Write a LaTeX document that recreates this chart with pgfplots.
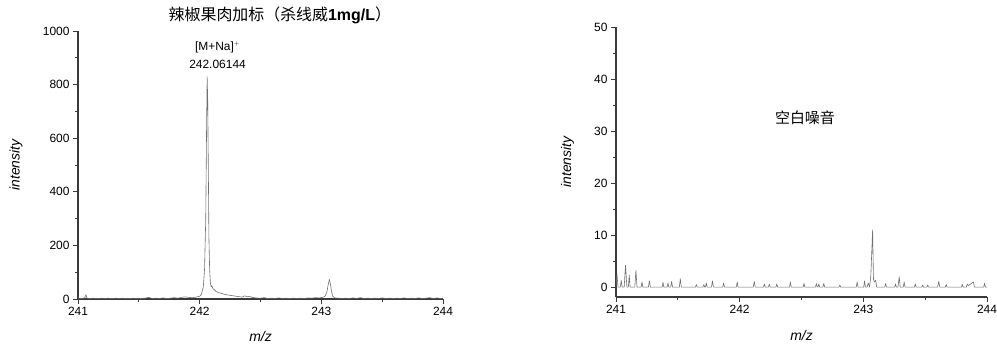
\documentclass[border=0pt]{standalone}
\usepackage{fontspec}
\setmainfont{Liberation Sans}
\newfontfamily\cjk{Noto Sans CJK SC}
\usepackage{pgfplots}
\pgfplotsset{compat=1.18}

\definecolor{axisgray}{HTML}{3A3A3A}
\definecolor{tracegray}{HTML}{707070}

\pgfplotsset{
  spec/.style={
    scale only axis,
    axis lines=left,
    axis line style={axisgray, line width=1.1bp, -},
    tick align=outside,
    tick style={axisgray, line width=0.9bp},
    major tick length=5bp,
    minor tick length=3bp,
    xmin=241, xmax=244,
    xtick={241,242,243,244},
    minor xtick={241.5,242.5,243.5},
    /pgf/number format/assume math mode=true,
    /pgf/number format/1000 sep={},
    ticklabel style={font=\fontsize{12}{14}\selectfont, text=black},
    label style={font=\fontsize{14}{16}\selectfont\itshape},
    xlabel={m/z},
    ylabel={intensity},
    xlabel style={at={(axis description cs:0.5,-0.141)}, anchor=center},
    clip=false,
  },
  trace/.style={tracegray, line width=0.6bp, mark=none, line join=round},
}

\begin{document}
\begin{tikzpicture}
\useasboundingbox (0,0) rectangle (997bp,347bp);

% spiked pepper pulp sample
\begin{axis}[spec,
  at={(78bp,48bp)}, anchor=south west,
  width=365bp, height=268bp,
  ymin=0, ymax=1000,
  ytick={0,200,400,600,800,1000},
  minor ytick={100,300,500,700,900},
  ylabel style={at={(axis description cs:-0.170,0.5)}, anchor=center, rotate=0},
  title={{\cjk 辣椒果肉加标（杀线威}\textbf{1mg/L}{\cjk ）}},
  title style={at={(axis description cs:0.553,1.035)}, anchor=center,
               font=\fontsize{16}{18}\selectfont},
]
\addplot[trace] coordinates {
(241.00,3) (241.03,2) (241.055,4) (241.065,16) (241.075,3) (241.10,2)
(241.13,3) (241.16,1) (241.19,3) (241.22,2) (241.25,3) (241.28,1)
(241.31,3) (241.34,2) (241.37,3) (241.40,1) (241.43,2) (241.46,3)
(241.49,1) (241.52,2) (241.55,3) (241.58,6) (241.61,2) (241.64,3)
(241.67,2) (241.70,4) (241.73,2) (241.76,3) (241.79,5) (241.82,3)
(241.85,6) (241.88,8) (241.91,6) (241.94,5) (241.97,7) (242.00,10)
(242.015,18) (242.03,45) (242.04,110) (242.05,300) (242.057,650)
(242.0615,830) (242.066,745) (242.071,500) (242.076,230) (242.082,110)
(242.088,60) (242.095,45) (242.10,50) (242.11,38) (242.12,35)
(242.135,28) (242.15,25) (242.17,22) (242.20,18) (242.23,15)
(242.26,13) (242.29,11) (242.32,9) (242.35,7) (242.37,12) (242.39,8)
(242.41,10) (242.43,6) (242.46,4) (242.50,3) (242.53,5) (242.56,2)
(242.59,3) (242.62,2) (242.65,4) (242.68,2) (242.71,3) (242.74,2)
(242.77,3) (242.80,2) (242.83,3) (242.86,2) (242.89,4) (242.92,3)
(242.95,5) (242.98,4) (243.01,6) (243.03,10) (243.045,25) (243.055,50)
(243.066,73) (243.075,55) (243.085,25) (243.095,10) (243.11,4)
(243.14,3) (243.17,2) (243.20,3) (243.23,2) (243.26,4) (243.29,2)
(243.32,5) (243.35,2) (243.38,3) (243.41,2) (243.44,3) (243.47,2)
(243.50,4) (243.53,2) (243.56,3) (243.59,2) (243.62,3) (243.65,2)
(243.68,4) (243.71,2) (243.74,3) (243.77,2) (243.80,4) (243.83,2)
(243.86,3) (243.89,5) (243.92,2) (243.95,4) (243.98,2) (244.00,3)
};
\node[font=\fontsize{12}{14}\selectfont, anchor=center]
  at (axis cs:242.147,940) {[M+Na]$^{\scriptscriptstyle +}$};
\node[font=\fontsize{12}{14}\selectfont, anchor=center]
  at (axis cs:242.147,877) {242.06144};
\end{axis}

% blank noise
\begin{axis}[spec,
  at={(616bp,50bp)}, anchor=south west,
  width=371bp, height=270bp,
  ymin=-1.9, ymax=50,
  ytick={0,10,20,30,40,50},
  minor ytick={5,15,25,35,45},
  ylabel style={at={(axis description cs:-0.131,0.5)}, anchor=center, rotate=0},
]
\addplot[trace] coordinates {
(241.000,0) (241.008,2.5) (241.016,0) (241.035,0) (241.042,1.3) (241.050,0)
(241.066,0) (241.077,4.2) (241.088,0) (241.100,0) (241.107,2.3) (241.114,0)
(241.152,0) (241.161,3.2) (241.170,0) (241.203,0) (241.210,1.0) (241.217,0)
(241.262,0) (241.270,1.2) (241.278,0) (241.373,0) (241.380,0.9) (241.387,0)
(241.413,0) (241.420,0.8) (241.427,0) (241.443,0) (241.450,1.1) (241.457,0)
(241.512,0) (241.520,1.6) (241.528,0) (241.643,0) (241.650,0.5) (241.657,0)
(241.703,0) (241.710,0.5) (241.717,0) (241.723,0) (241.730,0.8) (241.737,0)
(241.772,0) (241.780,1.2) (241.788,0) (241.863,0) (241.870,0.8) (241.877,0)
(241.973,0) (241.980,1.0) (241.987,0) (242.110,0) (242.118,1.1) (242.126,0)
(242.193,0) (242.200,0.6) (242.207,0) (242.233,0) (242.240,0.6) (242.247,0)
(242.293,0) (242.300,0.6) (242.307,0) (242.403,0) (242.410,1.0) (242.417,0)
(242.513,0) (242.520,0.7) (242.527,0) (242.613,0) (242.620,0.7) (242.627,0)
(242.633,0) (242.640,0.6) (242.647,0) (242.673,0) (242.680,0.7) (242.687,0)
(242.803,0) (242.810,0.4) (242.817,0) (242.943,0) (242.950,1.0) (242.957,0)
(243.003,0) (243.010,1.2) (243.017,0) (243.030,0) (243.040,0.8) (243.050,0)
(243.060,2.0) (243.066,5.5) (243.075,11.0) (243.082,1.5) (243.090,1.0)
(243.100,1.3) (243.108,0) (243.173,0) (243.180,0.7) (243.187,0)
(243.253,0) (243.260,0.6) (243.267,0) (243.280,0) (243.290,2.0) (243.298,0)
(243.323,0) (243.330,1.0) (243.337,0) (243.413,0) (243.420,0.6) (243.427,0)
(243.473,0) (243.480,0.4) (243.487,0) (243.513,0) (243.520,0.4) (243.527,0)
(243.600,0) (243.610,1.1) (243.618,0) (243.663,0) (243.670,0.5) (243.677,0)
(243.793,0) (243.800,0.5) (243.807,0) (243.833,0) (243.840,0.6) (243.850,0.3)
(243.890,1.0) (243.898,0) (243.973,0) (243.980,0.7) (243.987,0) (244.000,0)
};
\node[font=\cjk\fontsize{15}{17}\selectfont, anchor=center]
  at (axis cs:242.528,32.6) {空白噪音};
\end{axis}
\end{tikzpicture}
\end{document}
